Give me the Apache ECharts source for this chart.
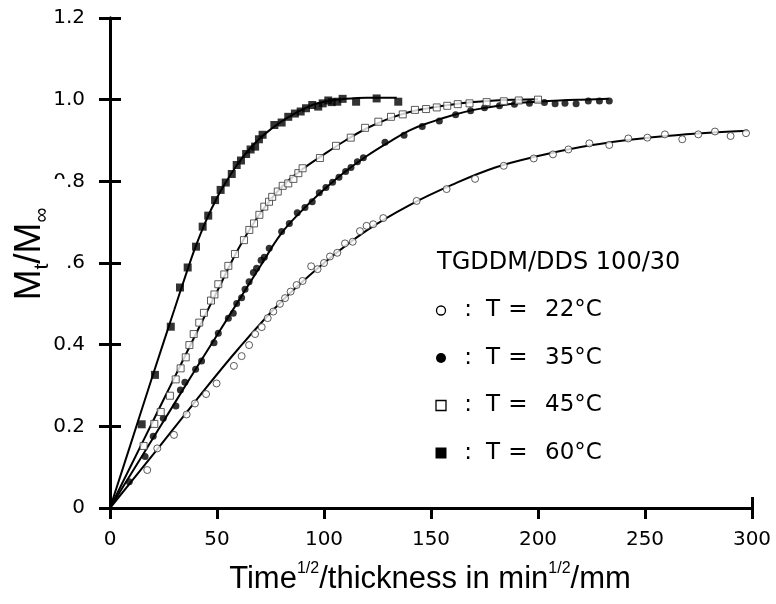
<!DOCTYPE html>
<html><head><meta charset="utf-8">
<script src="https://cdn.jsdelivr.net/npm/echarts@6/dist/echarts.min.js"></script>
<style>html,body{margin:0;padding:0;background:#fff}#c{width:776px;height:604px}</style>
</head><body><div id="c"></div>
<script>
// ---- data ----
const xTicks = [0, 50, 100, 150, 200, 250, 300];
const yTicks = [0, 0.2, 0.4, 0.6, 0.8, 1.0, 1.2];
const legendTitle = 'TGDDM/DDS 100/30';
const seriesNames = ['T = 22°C', 'T = 35°C', 'T = 45°C', 'T = 60°C'];
const legendValues = ['22°C', '35°C', '45°C', '60°C'];

const x22 = [17.4,22.1,29.9,35.8,39.7,44.9,49.8,57.9,61.5,65.0,67.8,70.9,73.7,76.3,79.4,81.8,84.4,87.2,90.0,94.0,97.0,100.0,102.8,106.2,109.8,113.4,116.8,119.9,123.0,127.7,143.3,157.3,170.6,184.0,198.0,207.0,214.2,224.0,233.3,242.2,251.1,259.3,267.4,274.9,282.7,290.0,297.2];
const y22 = [0.093,0.146,0.179,0.229,0.256,0.279,0.305,0.348,0.372,0.399,0.426,0.443,0.465,0.481,0.500,0.514,0.530,0.546,0.556,0.592,0.585,0.600,0.616,0.625,0.648,0.652,0.678,0.691,0.695,0.710,0.752,0.781,0.806,0.838,0.856,0.866,0.878,0.893,0.889,0.905,0.907,0.915,0.903,0.915,0.922,0.911,0.918];

const x35 = [9.0,16.4,20.2,24.9,30.8,32.9,35.0,40.0,42.8,48.6,50.6,55.3,57.6,59.2,61.5,63.1,65.0,67.0,68.5,70.6,72.1,74.4,80.2,83.8,87.5,91.1,94.5,97.8,100.9,104.0,107.0,110.1,112.6,115.6,118.4,128.5,137.4,145.9,153.9,161.5,168.5,175.0,182.0,189.0,196.0,203.0,208.0,212.6,217.8,223.5,228.7,233.3];
const y35 = [0.064,0.126,0.176,0.220,0.250,0.289,0.308,0.340,0.360,0.405,0.428,0.465,0.477,0.501,0.515,0.536,0.554,0.577,0.587,0.607,0.614,0.636,0.677,0.697,0.723,0.736,0.750,0.772,0.785,0.798,0.810,0.824,0.834,0.848,0.858,0.896,0.913,0.934,0.948,0.963,0.973,0.980,0.985,0.989,0.991,0.993,0.990,0.991,0.990,0.997,0.997,0.997];

const x45 = [15.7,20.7,23.7,28.0,30.7,33.0,35.4,37.1,39.1,41.7,43.9,47.2,48.8,50.6,53.4,55.3,58.4,62.6,65.1,67.3,69.8,72.1,74.3,75.8,78.4,80.7,83.3,85.7,88.0,90.0,98.1,105.6,112.5,119.2,125.4,131.3,136.8,142.5,147.7,152.7,157.6,162.5,168.0,176.0,184.0,191.0,200.0];
const y45 = [0.152,0.206,0.235,0.275,0.315,0.342,0.369,0.399,0.426,0.454,0.478,0.508,0.523,0.548,0.572,0.593,0.622,0.656,0.681,0.697,0.718,0.738,0.750,0.762,0.775,0.789,0.795,0.806,0.820,0.832,0.857,0.887,0.907,0.931,0.946,0.958,0.964,0.975,0.977,0.981,0.985,0.989,0.991,0.994,0.996,0.998,1.000];

const x60 = [14.8,21.0,28.4,32.7,36.3,40.2,43.3,45.9,49.1,51.7,54.1,56.9,59.2,61.2,63.6,65.7,67.8,69.6,71.3,76.8,80.2,83.3,86.4,89.1,91.6,94.5,97.3,99.4,102.0,103.6,106.2,108.7,115.0,124.6,134.7];
const y60 = [0.205,0.326,0.444,0.540,0.589,0.640,0.689,0.716,0.754,0.779,0.797,0.818,0.840,0.851,0.867,0.878,0.885,0.903,0.914,0.938,0.944,0.958,0.966,0.971,0.979,0.987,0.983,0.991,0.998,0.994,0.995,1.002,0.995,1.003,0.995];

// fitted curves
const fx22 = [0,20,40,60,80,100,120,140,160,180,200,220,240,260,280,298];
const fy22 = [0,0.130,0.262,0.390,0.505,0.600,0.680,0.742,0.792,0.834,0.862,0.884,0.900,0.911,0.919,0.924];
const fx35 = [0,10,20,30,40,50,60,70,80,90,100,110,120,130,140,150,160,170,180,190,200,210,220,233];
const fy35 = [0,0.085,0.170,0.255,0.340,0.423,0.507,0.590,0.672,0.730,0.780,0.824,0.862,0.895,0.925,0.945,0.962,0.975,0.984,0.991,0.995,0.998,1.000,1.002];
const fx45 = [0,10,20,30,40,50,60,70,80,90,100,110,120,130,140,150,160,170,180,190,200];
const fy45 = [0,0.106,0.212,0.318,0.425,0.530,0.635,0.720,0.785,0.830,0.866,0.900,0.930,0.953,0.970,0.980,0.988,0.994,0.998,1.000,1.001];
const fx60 = [0,10,20,30,36,40,45,50,55,60,65,70,75,80,85,90,95,100,110,120,134];
const fy60 = [0,0.162,0.325,0.485,0.580,0.640,0.705,0.760,0.805,0.845,0.878,0.905,0.927,0.946,0.962,0.976,0.988,0.995,1.002,1.005,1.005];

const zip = (a, b) => a.map((v, i) => [v, b[i]]);

const FONT = '"Liberation Sans", Arial, Helvetica, sans-serif';
const WFONT = '"DejaVu Sans", "Liberation Sans", sans-serif';
const chart = echarts.init(document.getElementById('c'), null, {renderer: 'canvas'});

const axisLine = {show: true, lineStyle: {color: '#000', width: 3}};
const axisTick = {show: true, inside: false, length: 11, lineStyle: {color: '#000', width: 3}};

function curve(xs, ys) {
  return {type: 'line', data: zip(xs, ys), smooth: 0.4, showSymbol: false, symbol: 'none',
    lineStyle: {color: '#000', width: 2}, z: 3, silent: true};
}
function pts(xs, ys, symbol, size, filled) {
  return {type: 'scatter', data: zip(xs, ys), symbol: symbol, symbolSize: size, z: 4,
    itemStyle: filled ? {color: '#000', borderColor: '#000', borderWidth: 0}
                      : {color: '#fff', borderColor: '#333', borderWidth: 1}};
}

const legendY0 = 263, legendDy = 47.5;
const graphics = [];
// white area behind the y-axis title (covers leading zeros as in the original)
graphics.push({type: 'rect', left: 6, top: 179, shape: {width: 60, height: 126}, style: {fill: '#fff'}, z: 100});
graphics.push({type: 'text', x: 30, y: 254, rotation: Math.PI / 2, z: 101,
  style: {text: '{m|M}{s|t}{m|/M}{s|∞}', align: 'center', verticalAlign: 'middle', fill: '#000',
    rich: {m: {fontSize: 37, fontFamily: FONT, lineHeight: 46, verticalAlign: 'middle'},
           s: {fontSize: 21, fontFamily: FONT, lineHeight: 21, verticalAlign: 'bottom'}}}});
graphics.push({type: 'text', x: 430, y: 579, z: 101,
  style: {text: '{m|Time}{s|1/2}{m|/thickness in min}{s|1/2}{m|/mm}', align: 'center', verticalAlign: 'middle', fill: '#000',
    rich: {m: {fontSize: 31, fontFamily: FONT, lineHeight: 40, verticalAlign: 'middle'},
           s: {fontSize: 16, fontFamily: FONT, lineHeight: 16, verticalAlign: 'top', padding: [2, 0, 0, 0]}}}});
graphics.push({type: 'text', x: 437, y: legendY0, z: 101,
  style: {text: legendTitle, fontSize: 24, fontFamily: WFONT, fill: '#000', verticalAlign: 'middle'}});
for (let i = 0; i < 4; i++) {
  const cy = legendY0 + legendDy * (i + 1);
  if (i === 0) graphics.push({type: 'circle', shape: {cx: 441, cy: cy, r: 4.5}, style: {fill: '#fff', stroke: '#000', lineWidth: 1.3}, z: 101});
  if (i === 1) graphics.push({type: 'circle', shape: {cx: 441, cy: cy, r: 5}, style: {fill: '#000'}, z: 101});
  if (i === 2) graphics.push({type: 'rect', shape: {x: 436, y: cy - 5, width: 10, height: 10}, style: {fill: '#fff', stroke: '#000', lineWidth: 1.3}, z: 101});
  if (i === 3) graphics.push({type: 'rect', shape: {x: 435.5, y: cy - 5.5, width: 11, height: 11}, style: {fill: '#000'}, z: 101});
  graphics.push({type: 'text', x: 468, y: cy, z: 101, style: {text: ':', fontSize: 23, fontFamily: WFONT, fill: '#000', align: 'center', verticalAlign: 'middle'}});
  graphics.push({type: 'text', x: 493, y: cy, z: 101, style: {text: 'T', fontSize: 23, fontFamily: WFONT, fill: '#000', align: 'center', verticalAlign: 'middle'}});
  graphics.push({type: 'text', x: 518, y: cy, z: 101, style: {text: '=', fontSize: 23, fontFamily: WFONT, fill: '#000', align: 'center', verticalAlign: 'middle'}});
  graphics.push({type: 'text', x: 545, y: cy, z: 101, style: {text: legendValues[i], fontSize: 23, fontFamily: WFONT, fill: '#000', verticalAlign: 'middle'}});
}

chart.setOption({
  animation: false,
  backgroundColor: '#fff',
  grid: {left: 110, right: 24, top: 18, bottom: 96, containLabel: false},
  xAxis: [
    {type: 'value', position: 'bottom', min: xTicks[0], max: xTicks[xTicks.length - 1], interval: 50,
     axisLine: axisLine, axisTick: axisTick, splitLine: {show: false},
     axisLabel: {color: '#000', fontSize: 20, fontFamily: WFONT, margin: 22}},
    {type: 'value', position: 'top', min: 0, max: 300, interval: 300,
     axisLine: axisLine, axisTick: axisTick, splitLine: {show: false}, axisLabel: {show: false}}
  ],
  yAxis: [
    {type: 'value', position: 'left', min: yTicks[0], max: yTicks[yTicks.length - 1], interval: 0.2,
     axisLine: axisLine, axisTick: axisTick, splitLine: {show: false},
     axisLabel: {color: '#000', fontSize: 20, fontFamily: WFONT, margin: 25,
       formatter: v => (Math.abs(v) < 1e-9 ? '0' : v.toFixed(1))}},
    {type: 'value', position: 'right', min: 0, max: 1.2, interval: 0.2,
     axisLine: axisLine, axisTick: axisTick, splitLine: {show: false}, axisLabel: {show: false}}
  ],
  series: [
    curve(fx22, fy22), curve(fx35, fy35), curve(fx45, fy45), curve(fx60, fy60),
    Object.assign(pts(x22, y22, 'circle', 7, false), {name: seriesNames[0]}),
    Object.assign(pts(x35, y35, 'circle', 7, true), {name: seriesNames[1]}),
    Object.assign(pts(x45, y45, 'rect', 7, false), {name: seriesNames[2]}),
    Object.assign(pts(x60, y60, 'rect', 8, true), {name: seriesNames[3]})
  ],
  graphic: graphics
});
</script></body></html>
